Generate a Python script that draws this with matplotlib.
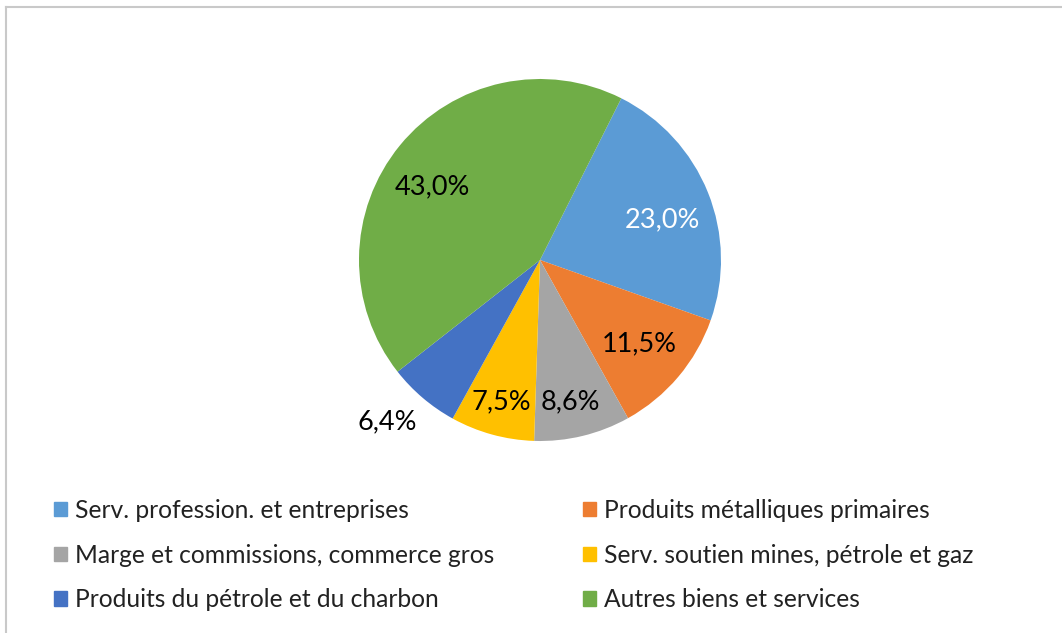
import matplotlib.pyplot as plt
import matplotlib.patches as mpatches
from matplotlib.lines import Line2D
import numpy as np

# données
categories = ['Serv. profession. et entreprises', 'Produits métalliques primaires',
              'Marge et commissions, commerce gros', 'Serv. soutien mines, pétrole et gaz',
              'Produits du pétrole et du charbon', 'Autres biens et services']
parts = [23.0, 11.5, 8.6, 7.5, 6.4, 43.0]
etiquettes = ['23,0%', '11,5%', '8,6%', '7,5%', '6,4%', '43,0%']
couleurs = ['#5B9BD5', '#ED7D31', '#A5A5A5', '#FFC000', '#4472C4', '#70AD47']
couleurs_texte = ['white', 'black', 'black', 'black', 'black', 'black']
# placement des étiquettes (distance au centre, décalage angulaire en degrés)
distances = [0.71, 0.72, 0.80, 0.81, 1.23, 0.72]
decalages = [-3.9, 0.0, -1.5, 0.0, -3.0, 5.3]

plt.rcParams['font.family'] = ['Lato', 'DejaVu Sans']

W, H = 1062, 633
fig = plt.figure(figsize=(W / 100, H / 100), dpi=100, facecolor='white')

# cadre (seulement haut et gauche visibles)
fig.add_artist(Line2D([6 / W, 6 / W], [0, 1 - 7 / H], color='#C9C9C9', lw=1.5))
fig.add_artist(Line2D([6 / W, 1], [1 - 7 / H, 1 - 7 / H], color='#C9C9C9', lw=1.5))

# camembert
cx, cy, r = 540, 260, 181
ax = fig.add_axes([(cx - r) / W, 1 - (cy + r) / H, 2 * r / W, 2 * r / H])
wedges, _ = ax.pie(parts, colors=couleurs, startangle=63.3, counterclock=False,
                   radius=1.0, wedgeprops=dict(linewidth=0))
ax.set_xlim(-1, 1)
ax.set_ylim(-1, 1)
ax.set_aspect('equal')
ax.axis('off')

for w, lab, col, d, dec in zip(wedges, etiquettes, couleurs_texte, distances, decalages):
    ang = np.deg2rad((w.theta1 + w.theta2) / 2 + dec)
    ax.text(d * np.cos(ang), d * np.sin(ang), lab, ha='center', va='center',
            fontsize=19.5, color=col)

# légende : deux colonnes, remplies ligne par ligne
handles = [mpatches.Patch(color=c, label=l) for c, l in zip(couleurs, categories)]
colonnes = [([0, 2, 4], 54), ([1, 3, 5], 583)]
for idx, x0 in colonnes:
    leg = fig.legend([handles[i] for i in idx], [categories[i] for i in idx],
                     loc='upper left', bbox_to_anchor=(x0 / W, 1 - 499 / H),
                     frameon=False, fontsize=17.7, handlelength=0.52, handleheight=0.52,
                     handletextpad=0.35, labelspacing=0.88, borderpad=0,
                     borderaxespad=0, labelcolor='#222222')

fig.savefig('out.png', dpi=100, facecolor='white')
